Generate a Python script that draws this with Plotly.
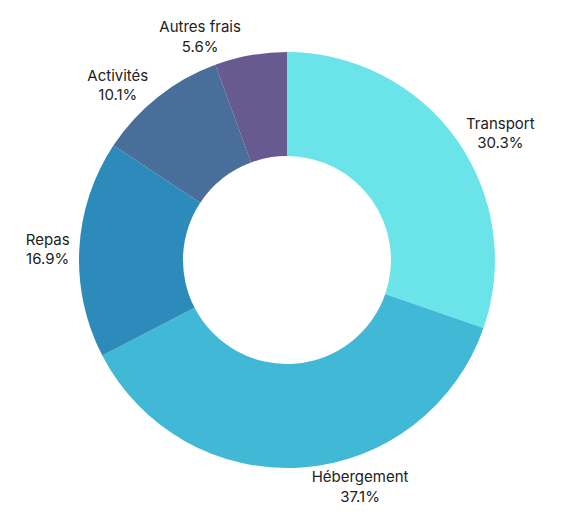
import plotly.graph_objects as go

labels = ["Transport", "Hébergement", "Repas", "Activités", "Autres frais"]
values = [30.3, 37.1, 16.9, 10.1, 5.6]
colors = ["#6AE4E9", "#42B8D7", "#2D8BBB", "#4A6E9A", "#665A90"]

fig = go.Figure(go.Pie(
    labels=labels,
    values=values,
    hole=0.5,
    sort=False,
    direction="clockwise",
    rotation=0,
    automargin=False,
    domain=dict(x=[0.1230, 0.8440], y=[0.1120, 0.9150]),
    marker=dict(colors=colors, line=dict(color="white", width=0)),
    textposition="outside",
    texttemplate="%{label}<br>%{percent:.1%}",
    textfont=dict(family="Inter, sans-serif", size=15, color="#222222"),
    showlegend=False,
    hoverinfo="label+percent",
))

fig.update_layout(
    width=577, height=518,
    margin=dict(l=0, r=0, t=0, b=0),
    paper_bgcolor="white",
    plot_bgcolor="white",
)

fig.write_html("out.html")
